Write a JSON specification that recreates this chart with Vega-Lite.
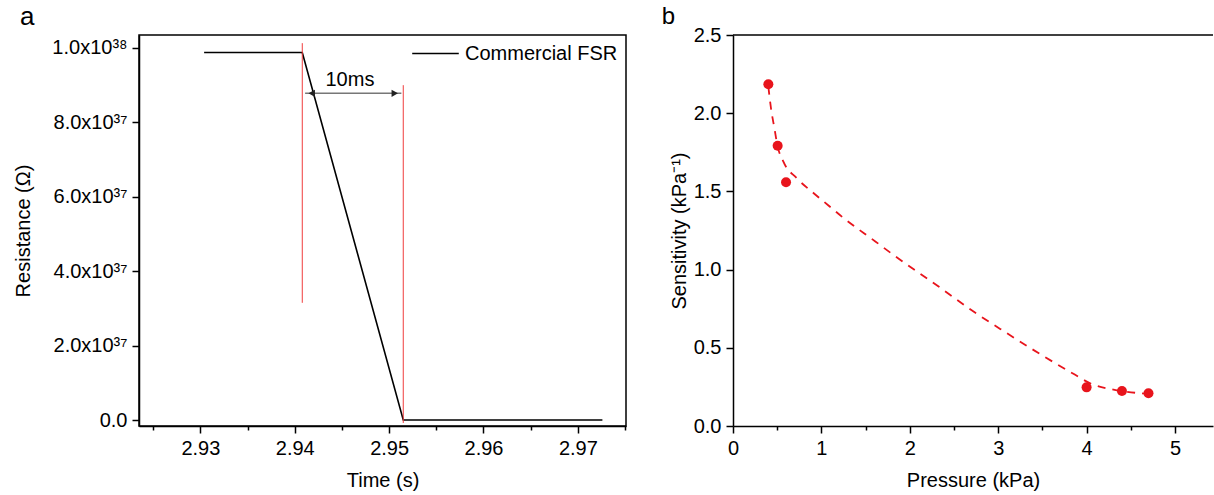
{
  "$schema": "https://vega.github.io/schema/vega-lite/v6.json",
  "background": "white",
  "padding": {"left": 13, "top": 3, "right": 0, "bottom": 0},
  "bounds": "flush",
  "spacing": 107,
  "resolve": {"scale": {"color": "independent"}, "legend": {"color": "independent"}},
  "config": {
    "font": "Liberation Sans",
    "view": {"stroke": null},
    "axis": {
      "labelFont": "Liberation Sans",
      "titleFont": "Liberation Sans",
      "labelFontSize": 20,
      "titleFontSize": 20,
      "titleFontWeight": "normal",
      "labelColor": "black",
      "titleColor": "black",
      "domainColor": "black",
      "tickColor": "black",
      "grid": false,
      "labelPadding": 5,
      "tickSize": 7,
      "domainWidth": 1.5,
      "tickWidth": 1.5,
      "labelFlush": false,
      "labelOverlap": false
    }
  },
  "hconcat": [
    {
      "width": 487,
      "height": 391,
      "view": {"stroke": "black", "strokeWidth": 1.5},
      "layer": [
        {
          "data": {"values": [
            {"time": 2.9304, "resistance": 9.88e37, "series": "Commercial FSR"},
            {"time": 2.9408, "resistance": 9.88e37, "series": "Commercial FSR"},
            {"time": 2.9515, "resistance": 0, "series": "Commercial FSR"},
            {"time": 2.9726, "resistance": 0, "series": "Commercial FSR"}
          ]},
          "mark": {"type": "line", "strokeWidth": 1.6},
          "encoding": {
            "x": {"field": "time", "type": "quantitative", "title": "Time (s)",
              "scale": {"domain": [2.9235, 2.9751], "nice": false, "zero": false},
              "axis": {
                "values": [2.925, 2.93, 2.935, 2.94, 2.945, 2.95, 2.955, 2.96, 2.965, 2.97, 2.975],
                "labelExpr": "round(datum.value*1000) % 10 == 5 ? '' : format(datum.value, '.2f')",
                "tickSize": {"condition": {"test": "round(datum.value*1000) % 10 == 5", "value": 4}, "value": 7},
                "titlePadding": 12
              }},
            "y": {"field": "resistance", "type": "quantitative", "title": "Resistance (Ω)",
              "scale": {"domain": [-1.61e36, 1.0349e38], "nice": false, "zero": false},
              "axis": {
                "values": [0, 1e37, 2e37, 3e37, 4e37, 5e37, 6e37, 7e37, 8e37, 9e37, 1e38],
                "labelExpr": "round(datum.value/1e37) % 2 == 1 ? '' : ['0.0','2.0x10³⁷','4.0x10³⁷','6.0x10³⁷','8.0x10³⁷','1.0x10³⁸'][round(datum.value/2e37)]",
                "tickSize": {"condition": {"test": "round(datum.value/1e37) % 2 == 1", "value": 4}, "value": 7},
                "titlePadding": 18
              }},
            "color": {"field": "series", "type": "nominal",
              "scale": {"range": ["black"]},
              "legend": {
                "title": null, "orient": "none", "legendX": 272, "legendY": -6,
                "symbolType": "stroke", "symbolSize": 2170, "symbolStrokeWidth": 1.5,
                "labelFontSize": 20, "labelFont": "Liberation Sans", "labelColor": "black",
                "padding": 0, "labelOffset": 5
              }}
          }
        },
        {
          "data": {"values": [
            {"t": 2.9408, "r1": 1.013e38, "r2": 3.15e37},
            {"t": 2.9515, "r1": 9.0e37, "r2": -8e35}
          ]},
          "mark": {"type": "rule", "color": "#f03c3c", "strokeWidth": 1},
          "encoding": {
            "x": {"field": "t", "type": "quantitative"},
            "y": {"field": "r1", "type": "quantitative"},
            "y2": {"field": "r2"}
          }
        },
        {
          "data": {"values": [{"t1": 2.9411, "t2": 2.9513, "r": 8.78e37}]},
          "mark": {"type": "rule", "color": "#777777", "strokeWidth": 1.5},
          "encoding": {
            "x": {"field": "t1", "type": "quantitative"},
            "x2": {"field": "t2"},
            "y": {"field": "r", "type": "quantitative"}
          }
        },
        {
          "data": {"values": [
            {"t": 2.9418, "r": 8.78e37, "dir": "triangle-left"},
            {"t": 2.9506, "r": 8.78e37, "dir": "triangle-right"}
          ]},
          "mark": {"type": "point", "filled": true, "color": "#222222", "size": 55, "opacity": 1},
          "encoding": {
            "x": {"field": "t", "type": "quantitative"},
            "y": {"field": "r", "type": "quantitative"},
            "shape": {"field": "dir", "type": "nominal", "scale": null}
          }
        },
        {
          "data": {"values": [{"t": 2.94585, "r": 8.98e37, "label": "10ms"}]},
          "mark": {"type": "text", "fontSize": 20, "baseline": "alphabetic", "align": "center", "color": "black"},
          "encoding": {
            "x": {"field": "t", "type": "quantitative"},
            "y": {"field": "r", "type": "quantitative"},
            "text": {"field": "label"}
          }
        },
        {
          "data": {"values": [{"t": 2.9109, "r": 1.0618e38, "label": "a"}]},
          "mark": {"type": "text", "fontSize": 26, "baseline": "alphabetic", "align": "left", "color": "black"},
          "encoding": {
            "x": {"field": "t", "type": "quantitative"},
            "y": {"field": "r", "type": "quantitative"},
            "text": {"field": "label"}
          }
        }
      ]
    },
    {
      "width": 480,
      "height": 391,
      "layer": [
        {
          "data": {"values": [
            {"p": 0.40, "s": 2.17}, {"p": 0.43, "s": 2.03}, {"p": 0.47, "s": 1.90},
            {"p": 0.50, "s": 1.80}, {"p": 0.57, "s": 1.69}, {"p": 0.72, "s": 1.585},
            {"p": 0.91, "s": 1.49}, {"p": 1.08, "s": 1.41}, {"p": 1.25, "s": 1.33},
            {"p": 1.61, "s": 1.18}, {"p": 1.80, "s": 1.10}, {"p": 2.33, "s": 0.89},
            {"p": 2.70, "s": 0.74}, {"p": 3.08, "s": 0.60}, {"p": 3.46, "s": 0.465},
            {"p": 3.84, "s": 0.337}, {"p": 4.06, "s": 0.268}, {"p": 4.33, "s": 0.23},
            {"p": 4.70, "s": 0.205}
          ]},
          "mark": {"type": "line", "color": "#e8141c", "strokeDash": [8, 7], "strokeWidth": 1.8, "interpolate": "monotone"},
          "encoding": {
            "x": {"field": "p", "type": "quantitative", "title": "Pressure (kPa)",
              "scale": {"domain": [0, 5.43], "nice": false},
              "axis": {
                "values": [0, 0.5, 1, 1.5, 2, 2.5, 3, 3.5, 4, 4.5, 5],
                "labelExpr": "datum.value % 1 == 0 ? format(datum.value, 'd') : ''",
                "tickSize": {"condition": {"test": "datum.value % 1 != 0", "value": 4}, "value": 7},
                "titlePadding": 12
              }},
            "y": {"field": "s", "type": "quantitative", "title": "Sensitivity (kPa⁻¹)",
              "scale": {"domain": [0, 2.5], "nice": false},
              "axis": {
                "values": [0, 0.25, 0.5, 0.75, 1, 1.25, 1.5, 1.75, 2, 2.25, 2.5],
                "labelExpr": "round(datum.value*4) % 2 == 1 ? '' : format(datum.value, '.1f')",
                "tickSize": {"condition": {"test": "round(datum.value*4) % 2 == 1", "value": 4}, "value": 7},
                "titlePadding": 4
              }}
          }
        },
        {
          "data": {"values": [
            {"p": 0.40, "s": 2.185}, {"p": 0.505, "s": 1.792}, {"p": 0.60, "s": 1.558},
            {"p": 4.00, "s": 0.247}, {"p": 4.40, "s": 0.224}, {"p": 4.70, "s": 0.209}
          ]},
          "mark": {"type": "point", "filled": true, "color": "#e8141c", "size": 100, "opacity": 1},
          "encoding": {
            "x": {"field": "p", "type": "quantitative"},
            "y": {"field": "s", "type": "quantitative"}
          }
        },
        {
          "data": {"values": [{"top": 2.5}]},
          "mark": {"type": "rule", "color": "black", "strokeWidth": 1.5},
          "encoding": {"y": {"field": "top", "type": "quantitative"}}
        },
        {
          "data": {"values": [{"p": -0.806, "s": 2.57, "label": "b"}]},
          "mark": {"type": "text", "fontSize": 24, "baseline": "alphabetic", "align": "left", "color": "black"},
          "encoding": {
            "x": {"field": "p", "type": "quantitative"},
            "y": {"field": "s", "type": "quantitative"},
            "text": {"field": "label"}
          }
        }
      ]
    }
  ]
}
